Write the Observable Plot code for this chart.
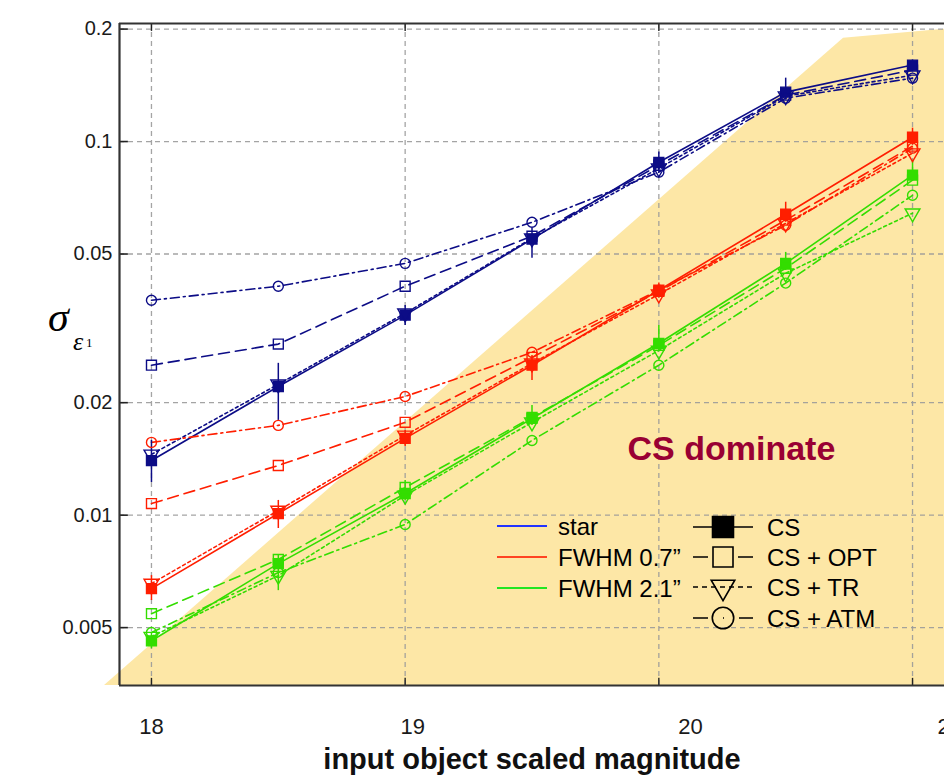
<!DOCTYPE html>
<html><head><meta charset="utf-8">
<script src="https://cdn.jsdelivr.net/npm/d3@7"></script>
<script src="https://cdn.jsdelivr.net/npm/@observablehq/plot@0.6"></script>
<style>
html,body{margin:0;padding:0;background:#fff;overflow:hidden}
#wrap{position:relative;width:944px;height:776px;font-family:"Liberation Sans",Arial,sans-serif}
#wrap svg.overlay{position:absolute;left:0;top:0;pointer-events:none}
</style></head><body><div id="wrap"></div>
<script>
// ---- data ----
const mags = [18, 18.5, 19, 19.5, 20, 20.5, 21];
const starCS  = [0.0140, 0.0221, 0.0343, 0.0548, 0.0880, 0.1356, 0.1602];
const starOPT = [0.0252, 0.0287, 0.0410, 0.0558, 0.0864, 0.1331, 0.1553];
const starTR  = [0.01454, 0.0224, 0.0347, 0.0551, 0.0848, 0.1323, 0.1505];
const starATM = [0.0376, 0.0410, 0.0472, 0.0608, 0.0828, 0.1307, 0.1478];
const fw07CS  = [0.00636, 0.0101, 0.01605, 0.0252, 0.0400, 0.0639, 0.1027];
const fw07OPT = [0.01074, 0.01358, 0.01772, 0.02645, 0.0397, 0.0616, 0.0972];
const fw07TR  = [0.00656, 0.01029, 0.01635, 0.02549, 0.0390, 0.0604, 0.0931];
const fw07ATM = [0.01566, 0.01739, 0.02078, 0.02728, 0.0400, 0.0597, 0.0960];
const fw21CS  = [0.00461, 0.00742, 0.01143, 0.01815, 0.02884, 0.0472, 0.0813];
const fw21OPT = [0.00545, 0.00761, 0.01186, 0.01827, 0.02848, 0.0458, 0.0788];
const fw21TR  = [0.00473, 0.00689, 0.01129, 0.01772, 0.0276, 0.0444, 0.0643];
const fw21ATM = [0.00485, 0.00702, 0.00944, 0.01585, 0.0252, 0.0418, 0.0718];
// error bars of the CS series
const starCSLo = [0.01223, 0.01793, 0.0322, 0.0487, 0.0828, 0.1291, 0.1553];
const starCSHi = [0.01585, 0.02549, 0.0364, 0.0586, 0.0937, 0.1478, 0.1652];
const fw07CSLo = [0.00591, 0.00921, 0.01527, 0.02294, 0.0381, 0.0608, 0.0978];
const fw07CSHi = [0.00689, 0.01095, 0.01686, 0.02677, 0.0418, 0.0688, 0.1086];
const fw21CSLo = [0.00439, 0.00628, 0.01095, 0.01739, 0.0276, 0.0452, 0.0788];
const fw21CSHi = [0.00485, 0.00780, 0.01238, 0.01967, 0.0322, 0.0505, 0.0891];
// "CS dominate" shaded region boundary
const shadeMag = [17.815, 20.728, 21.2];
const shadeTop = [0.0035, 0.189, 0.202];
// axes
const yTicks = [0.005, 0.01, 0.02, 0.05, 0.1, 0.2];
const yTickLabels = ["0.005", "0.01", "0.02", "0.05", "0.1", "0.2"];
const xGridTicks = [18, 19, 20, 21];
const xLabelPos = [18, 19.03, 20.125, 21.147];
const xTickLabels = ["18", "19", "20", "21"];
const xTitle = "input object scaled magnitude";
const objNames = ["star", "FWHM 0.7\u201d", "FWHM 2.1\u201d"];
const methodNames = ["CS", "CS + OPT", "CS + TR", "CS + ATM"];
const annotText = "CS dominate";
const annotMag = 20.286, annotSigma = 0.0150;

// ---- styles ----
const xDomain = [17.874, 21.126];
const yDomain = [0.0035, 0.207];
const objColors = ["#0c0c86", "#ff1e00", "#33dd00"];
const legendColors = ["#2233ff", "#ff4422", "#22e622"];
const methodDash = [null, "11,6", "3,3", "9,4,2,4"];
const methodSymbol = ["square", "square", "triangle", "circle"];
const methodR = [5.6, 5.6, 5.5, 5];
const methodRotate = [0, 0, 180, 0];
const shadeColor = "#fde7a6";

// ---- tables ----
const vals = [[starCS, starOPT, starTR, starATM], [fw07CS, fw07OPT, fw07TR, fw07ATM], [fw21CS, fw21OPT, fw21TR, fw21ATM]];
const errs = [[starCSLo, starCSHi], [fw07CSLo, fw07CSHi], [fw21CSLo, fw21CSHi]];
const rows = [];
vals.forEach((ms, oi) => ms.forEach((arr, mi) => arr.forEach((v, i) =>
  rows.push({obj: objNames[oi], mi, mag: mags[i], sigma: v, color: objColors[oi]}))));
const errRows = [];
errs.forEach(([lo, hi], oi) => mags.forEach((m, i) => errRows.push({mag: m, lo: lo[i], hi: hi[i], color: objColors[oi]})));
const shadeRows = shadeMag.map((m, i) => ({mag: m, lo: yDomain[0], hi: shadeTop[i]}));
const yTickRows = yTicks.map((v, i) => ({v, label: yTickLabels[i]}));

const methodMarks = methodNames.map((name, mi) => {
  const d = rows.filter(r => r.mi === mi);
  return Plot.line(d, {x: "mag", y: "sigma", z: "obj", stroke: "color", strokeWidth: 1.6,
    strokeDasharray: methodDash[mi] || undefined});
});
const dotMarks = methodNames.map((name, mi) => {
  const d = rows.filter(r => r.mi === mi);
  return Plot.dot(d, {x: "mag", y: "sigma", symbol: methodSymbol[mi], r: methodR[mi],
    fill: mi === 0 ? "color" : "none", stroke: "color", strokeWidth: 1.4, rotate: methodRotate[mi]});
});

const chart = Plot.plot({
  width: 944, height: 776,
  marginLeft: 119, marginRight: 0, marginTop: 23, marginBottom: 91,
  style: {fontFamily: "'Liberation Sans', Arial, sans-serif", background: "transparent", color: "#1a1a1a"},
  x: {domain: xDomain, label: null},
  y: {type: "log", domain: yDomain, label: null, axis: null},
  marks: [
    Plot.areaY(shadeRows, {x: "mag", y1: "lo", y2: "hi", fill: shadeColor}),
    Plot.gridY(yTicks, {stroke: "#9a9a9a", strokeOpacity: 0.9, strokeWidth: 1.3, strokeDasharray: "5,4"}),
    Plot.gridX(xGridTicks, {stroke: "#9a9a9a", strokeOpacity: 0.9, strokeWidth: 1.3, strokeDasharray: "5,4"}),
    Plot.ruleY(yTicks, {x1: xDomain[0], x2: xDomain[0] + 0.035, stroke: "#222", strokeWidth: 1.6}),
    Plot.ruleX(xGridTicks, {y1: yDomain[1], y2: yDomain[1] / 1.05, stroke: "#222", strokeWidth: 1.4}),
    Plot.ruleX(xGridTicks, {y1: yDomain[0], y2: yDomain[0] * 1.045, stroke: "#222", strokeWidth: 1.4}),
    Plot.ruleX([xDomain[0]], {stroke: "#333", strokeWidth: 2.2}),
    Plot.ruleY([yDomain[0], yDomain[1]], {stroke: "#333", strokeWidth: 2.2}),
    // y tick labels
    Plot.text(yTickRows, {y: "v", text: "label", frameAnchor: "left", textAnchor: "end", dx: -7,
      fontSize: 20, fill: "#1a1a1a"}),
    // x tick labels
    Plot.axisX(xLabelPos, {tickSize: 0, tickPadding: 33, fontSize: 22, tickFormat: (d, i) => xTickLabels[i], label: null}),
    // x title
    Plot.text([xTitle], {text: d => d, frameAnchor: "bottom", lineAnchor: "top", dy: 63,
      fontSize: 29, fontWeight: "bold", fill: "#111"}),
    ...methodMarks,
    Plot.ruleX(errRows, {x: "mag", y1: "lo", y2: "hi", stroke: "color", strokeWidth: 1.5}),
    ...dotMarks,
    Plot.text([annotText], {x: () => annotMag, y: () => annotSigma, text: d => d, fontSize: 34,
      fontWeight: "bold", fill: "#990033"})
  ]
});
document.getElementById("wrap").appendChild(chart);

// ---- overlay: y-axis symbol label and legend ----
const ov = d3.select("#wrap").append("svg").attr("class", "overlay").attr("width", 944).attr("height", 776);
const yl = ov.append("g").attr("font-family", "'Liberation Serif','DejaVu Serif',serif").attr("fill", "#000");
yl.append("text").attr("x", 48).attr("y", 331).attr("font-size", 42).attr("font-style", "italic").text("\u03c3");
yl.append("text").attr("x", 73).attr("y", 350).attr("font-size", 26).attr("font-style", "italic").text("\u03b5");
yl.append("text").attr("x", 86).attr("y", 347).attr("font-size", 13).text("1");

const lg = ov.append("g").attr("font-family", "'Liberation Sans',Arial,sans-serif").attr("fill", "#000");
const leftRowsY = [526, 557, 588];
objNames.forEach((n, i) => {
  lg.append("line").attr("x1", 497).attr("x2", 547).attr("y1", leftRowsY[i]).attr("y2", leftRowsY[i])
    .attr("stroke", legendColors[i]).attr("stroke-width", 1.8);
  lg.append("text").attr("x", 558).attr("y", leftRowsY[i] + 9).attr("font-size", 24).text(n);
});
const rightRowsY = [527, 557, 587, 618];
const legSym = [d3.symbolSquare, d3.symbolSquare, d3.symbolTriangle, d3.symbolCircle];
const legSize = [440, 400, 240, 360];
methodNames.forEach((n, i) => {
  const y = rightRowsY[i];
  const ln = lg.append("line").attr("x1", 693).attr("x2", 753).attr("y1", y).attr("y2", y)
    .attr("stroke", "#000").attr("stroke-width", 1.6);
  if (methodDash[i]) ln.attr("stroke-dasharray", i === 1 ? "15,30" : i === 3 ? "15,15,1,15" : "5,4");
  lg.append("path").attr("d", d3.symbol(legSym[i], legSize[i])())
    .attr("transform", `translate(723,${y})` + (i === 2 ? " rotate(180)" : ""))
    .attr("fill", i === 0 ? "#000" : "none").attr("stroke", "#000").attr("stroke-width", 1.6);
  lg.append("text").attr("x", 767).attr("y", y + 9).attr("font-size", 24).text(n);
});
</script></body></html>
